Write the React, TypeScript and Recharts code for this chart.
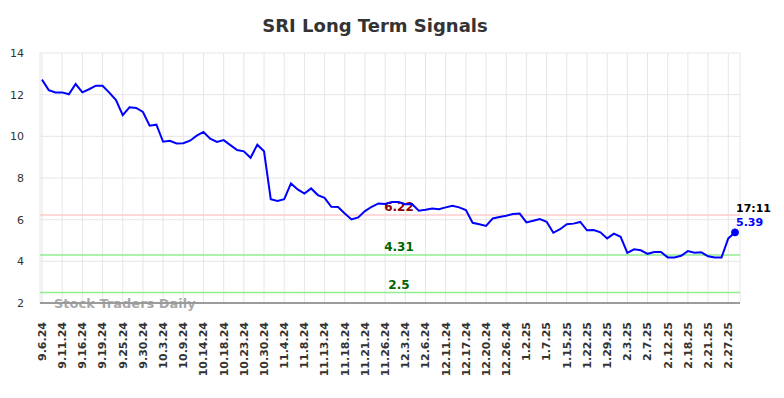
import React from 'react';
import {
  LineChart,
  Line,
  XAxis,
  YAxis,
  CartesianGrid,
  ReferenceLine,
  ReferenceDot,
} from 'recharts';

const tickLabels = [
  '9.6.24', '9.11.24', '9.16.24', '9.19.24', '9.25.24', '9.30.24', '10.3.24',
  '10.9.24', '10.14.24', '10.18.24', '10.23.24', '10.30.24', '11.4.24',
  '11.8.24', '11.13.24', '11.18.24', '11.21.24', '11.26.24', '12.3.24',
  '12.6.24', '12.11.24', '12.17.24', '12.20.24', '12.26.24', '1.2.25',
  '1.7.25', '1.15.25', '1.22.25', '1.29.25', '2.3.25', '2.7.25', '2.12.25',
  '2.18.25', '2.21.25', '2.27.25',
];

const closes = [
  12.72, 12.22, 12.11, 12.11, 12.02, 12.51, 12.11, 12.26, 12.43, 12.43,
  12.1, 11.74, 11.02, 11.39, 11.36, 11.17, 10.51, 10.56, 9.74, 9.79,
  9.66, 9.67, 9.79, 10.03, 10.21, 9.89, 9.73, 9.82, 9.58, 9.34,
  9.28, 8.97, 9.6, 9.28, 6.98, 6.9, 6.98, 7.74, 7.45, 7.25,
  7.5, 7.18, 7.05, 6.62, 6.61, 6.3, 6.01, 6.11, 6.41, 6.62,
  6.78, 6.75, 6.85, 6.85, 6.74, 6.75, 6.43, 6.48, 6.54, 6.5,
  6.59, 6.67, 6.59, 6.46, 5.85, 5.78, 5.7, 6.06, 6.13, 6.19,
  6.27, 6.29, 5.87, 5.95, 6.03, 5.9, 5.37, 5.54, 5.78, 5.81,
  5.89, 5.49, 5.5, 5.39, 5.1, 5.33, 5.18, 4.41, 4.58, 4.53,
  4.36, 4.45, 4.45, 4.19, 4.19, 4.27, 4.49, 4.41, 4.43, 4.24,
  4.19, 4.19, 5.1, 5.39,
];

const yTicks = [2, 4, 6, 8, 10, 12, 14];
const resistance = 6.22;
const supports = [4.31, 2.5];
const lastTime = '17:11';

const data = closes.map((v, i) => ({ i, v }));
const lastIndex = closes.length - 1;
const lastValue = closes[lastIndex];

const FONT = '"DejaVu Sans", sans-serif';

function DateTick({ x, y, payload }: any) {
  const label = tickLabels[Math.round(payload.value / 3)];
  const ty = y + 11;
  return (
    <text
      x={x}
      y={ty}
      dy="0.35em"
      transform={`rotate(-90, ${x}, ${ty})`}
      textAnchor="end"
      fontSize={11}
      fontWeight="bold"
      fontFamily={FONT}
      fill="#333"
    >
      {label}
    </text>
  );
}

const levelLabel = (text: string, color: string) => (props: any) => {
  const vb = props.viewBox;
  return (
    <text
      x={vb.x + vb.width / 2 + 9}
      y={vb.y - 4}
      textAnchor="middle"
      fontSize={12}
      fontWeight="bold"
      fontFamily={FONT}
      fill={color}
    >
      {text}
    </text>
  );
};

const lastLabel = (props: any) => {
  const vb = props.viewBox;
  const cx = vb.x + vb.width / 2;
  const cy = vb.y + vb.height / 2;
  return (
    <g fontFamily={FONT} fontWeight="bold" fontSize={11}>
      <text x={cx + 1} y={cy - 20} fill="#000">
        {lastTime}
      </text>
      <text x={cx + 1} y={cy - 6} fill="#0000ff">
        {lastValue.toFixed(2)}
      </text>
    </g>
  );
};

export default function App() {
  return (
    <div style={{ position: 'absolute', left: 0, top: 0, width: 784, height: 398 }}>
      <LineChart
        width={784}
        height={398}
        data={data}
        margin={{ top: 53, right: 44, left: 0, bottom: 0 }}
      >
        <CartesianGrid stroke="#e6e6e6" />
        <XAxis
          dataKey="i"
          type="number"
          domain={[0, lastIndex]}
          ticks={tickLabels.map((_, k) => k * 3)}
          padding={{ left: 2, right: 5 }}
          height={95}
          stroke="#444"
          tickLine={false}
          tick={<DateTick />}
          interval={0}
        />
        <YAxis
          domain={[2, 14]}
          ticks={yTicks}
          width={40}
          axisLine={false}
          tickLine={false}
          tickMargin={10}
          tick={{ fontSize: 11, fill: '#333', fontFamily: FONT }}
        />
        <ReferenceLine
          y={resistance}
          stroke="#ffcccc"
          strokeWidth={1.5}
          label={levelLabel(resistance.toFixed(2), '#8b0000')}
        />
        {supports.map((s) => (
          <ReferenceLine
            key={s}
            y={s}
            stroke="#90ee90"
            strokeWidth={1.5}
            label={levelLabel(String(s), '#006400')}
          />
        ))}
        <Line
          type="linear"
          dataKey="v"
          stroke="#0000ff"
          strokeWidth={2}
          dot={false}
          isAnimationActive={false}
        />
        <ReferenceDot
          x={lastIndex}
          y={lastValue}
          r={3.5}
          fill="#0000ff"
          stroke="#0000ff"
          label={lastLabel}
        />
      </LineChart>
      <svg
        width={784}
        height={398}
        style={{ position: 'absolute', left: 0, top: 0, pointerEvents: 'none' }}
      >
        <text
          x={375}
          y={32}
          textAnchor="middle"
          fontSize={18}
          fontWeight="bold"
          fontFamily={FONT}
          fill="#333"
        >
          SRI Long Term Signals
        </text>
        <text
          x={54}
          y={308}
          fontSize={13}
          fontWeight="bold"
          fontFamily={FONT}
          fill="#999"
          fillOpacity={0.85}
        >
          Stock Traders Daily
        </text>
      </svg>
    </div>
  );
}
